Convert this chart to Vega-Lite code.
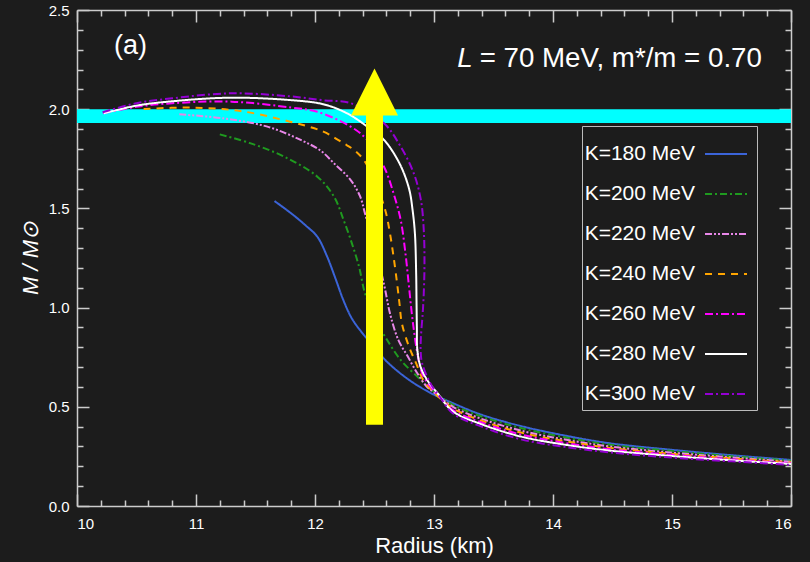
{
  "$schema": "https://vega.github.io/schema/vega-lite/v6.json",
  "width": 714,
  "height": 496,
  "autosize": {"type": "none"},
  "padding": {"left": 77, "top": 10, "right": 19, "bottom": 56},
  "background": "#1c1c1c",
  "view": {"stroke": null},
  "config": {
    "font": "Liberation Sans",
    "axis": {
      "domainColor": "#cccccc", "tickColor": "#cccccc", "labelColor": "#ffffff", "titleColor": "#ffffff",
      "grid": false, "labelFont": "Liberation Sans", "labelFontSize": 15, "domainWidth": 1.5, "tickWidth": 1.5,
      "titleFont": "Liberation Sans", "titleFontWeight": "normal", "zindex": 1
    }
  },
  "datasets": {
    "band": [{"x0": 10, "x1": 16, "y0": 1.93, "y1": 2.0}],
    "arrow": [{"R": 12.5, "M0": 0.41, "M1": 2.0, "Mh": 2.087}],
    "curves": [
      {"K": "K=180 MeV", "i": 1, "R": 11.66, "M": 1.537},
      {"K": "K=180 MeV", "i": 2, "R": 11.80, "M": 1.475},
      {"K": "K=180 MeV", "i": 3, "R": 11.92, "M": 1.415},
      {"K": "K=180 MeV", "i": 4, "R": 12.02, "M": 1.357},
      {"K": "K=180 MeV", "i": 5, "R": 12.10, "M": 1.26},
      {"K": "K=180 MeV", "i": 6, "R": 12.17, "M": 1.15},
      {"K": "K=180 MeV", "i": 7, "R": 12.24, "M": 1.035},
      {"K": "K=180 MeV", "i": 8, "R": 12.31, "M": 0.945},
      {"K": "K=180 MeV", "i": 9, "R": 12.40, "M": 0.87},
      {"K": "K=180 MeV", "i": 10, "R": 12.50, "M": 0.80},
      {"K": "K=180 MeV", "i": 11, "R": 12.60, "M": 0.73},
      {"K": "K=180 MeV", "i": 12, "R": 12.78, "M": 0.64},
      {"K": "K=180 MeV", "i": 13, "R": 12.97, "M": 0.570},
      {"K": "K=180 MeV", "i": 14, "R": 13.16, "M": 0.518},
      {"K": "K=180 MeV", "i": 15, "R": 13.40, "M": 0.46},
      {"K": "K=180 MeV", "i": 16, "R": 13.73, "M": 0.403},
      {"K": "K=180 MeV", "i": 17, "R": 14.10, "M": 0.355},
      {"K": "K=180 MeV", "i": 18, "R": 14.48, "M": 0.316},
      {"K": "K=180 MeV", "i": 19, "R": 15.00, "M": 0.283},
      {"K": "K=180 MeV", "i": 20, "R": 15.50, "M": 0.256},
      {"K": "K=180 MeV", "i": 21, "R": 16.00, "M": 0.232},

      {"K": "K=200 MeV", "i": 1, "R": 11.20, "M": 1.873},
      {"K": "K=200 MeV", "i": 2, "R": 11.46, "M": 1.828},
      {"K": "K=200 MeV", "i": 3, "R": 11.74, "M": 1.761},
      {"K": "K=200 MeV", "i": 4, "R": 12.02, "M": 1.66},
      {"K": "K=200 MeV", "i": 5, "R": 12.16, "M": 1.559},
      {"K": "K=200 MeV", "i": 6, "R": 12.24, "M": 1.442},
      {"K": "K=200 MeV", "i": 7, "R": 12.31, "M": 1.324},
      {"K": "K=200 MeV", "i": 8, "R": 12.37, "M": 1.206},
      {"K": "K=200 MeV", "i": 9, "R": 12.42, "M": 1.072},
      {"K": "K=200 MeV", "i": 10, "R": 12.50, "M": 0.95},
      {"K": "K=200 MeV", "i": 11, "R": 12.59, "M": 0.853},
      {"K": "K=200 MeV", "i": 12, "R": 12.72, "M": 0.736},
      {"K": "K=200 MeV", "i": 13, "R": 12.86, "M": 0.652},
      {"K": "K=200 MeV", "i": 14, "R": 12.94, "M": 0.605},
      {"K": "K=200 MeV", "i": 15, "R": 13.00, "M": 0.575},
      {"K": "K=200 MeV", "i": 16, "R": 13.16, "M": 0.51},
      {"K": "K=200 MeV", "i": 17, "R": 13.40, "M": 0.451},
      {"K": "K=200 MeV", "i": 18, "R": 13.73, "M": 0.393},
      {"K": "K=200 MeV", "i": 19, "R": 14.10, "M": 0.346},
      {"K": "K=200 MeV", "i": 20, "R": 14.48, "M": 0.309},
      {"K": "K=200 MeV", "i": 21, "R": 15.00, "M": 0.277},
      {"K": "K=200 MeV", "i": 22, "R": 15.50, "M": 0.251},
      {"K": "K=200 MeV", "i": 23, "R": 16.00, "M": 0.228},

      {"K": "K=220 MeV", "i": 1, "R": 10.86, "M": 1.974},
      {"K": "K=220 MeV", "i": 2, "R": 11.23, "M": 1.954},
      {"K": "K=220 MeV", "i": 3, "R": 11.60, "M": 1.912},
      {"K": "K=220 MeV", "i": 4, "R": 11.88, "M": 1.845},
      {"K": "K=220 MeV", "i": 5, "R": 12.05, "M": 1.79},
      {"K": "K=220 MeV", "i": 6, "R": 12.16, "M": 1.727},
      {"K": "K=220 MeV", "i": 7, "R": 12.30, "M": 1.643},
      {"K": "K=220 MeV", "i": 8, "R": 12.38, "M": 1.559},
      {"K": "K=220 MeV", "i": 9, "R": 12.42, "M": 1.475},
      {"K": "K=220 MeV", "i": 10, "R": 12.47, "M": 1.37},
      {"K": "K=220 MeV", "i": 11, "R": 12.52, "M": 1.26},
      {"K": "K=220 MeV", "i": 12, "R": 12.56, "M": 1.17},
      {"K": "K=220 MeV", "i": 13, "R": 12.59, "M": 1.089},
      {"K": "K=220 MeV", "i": 14, "R": 12.63, "M": 0.971},
      {"K": "K=220 MeV", "i": 15, "R": 12.70, "M": 0.837},
      {"K": "K=220 MeV", "i": 16, "R": 12.78, "M": 0.753},
      {"K": "K=220 MeV", "i": 17, "R": 12.86, "M": 0.669},
      {"K": "K=220 MeV", "i": 18, "R": 12.94, "M": 0.601},
      {"K": "K=220 MeV", "i": 19, "R": 13.00, "M": 0.572},
      {"K": "K=220 MeV", "i": 20, "R": 13.16, "M": 0.500},
      {"K": "K=220 MeV", "i": 21, "R": 13.40, "M": 0.439},
      {"K": "K=220 MeV", "i": 22, "R": 13.73, "M": 0.38},
      {"K": "K=220 MeV", "i": 23, "R": 14.10, "M": 0.335},
      {"K": "K=220 MeV", "i": 24, "R": 14.48, "M": 0.30},
      {"K": "K=220 MeV", "i": 25, "R": 15.00, "M": 0.269},
      {"K": "K=220 MeV", "i": 26, "R": 15.50, "M": 0.245},
      {"K": "K=220 MeV", "i": 27, "R": 16.00, "M": 0.223},

      {"K": "K=240 MeV", "i": 1, "R": 10.56, "M": 2.001},
      {"K": "K=240 MeV", "i": 2, "R": 10.95, "M": 2.008},
      {"K": "K=240 MeV", "i": 3, "R": 11.37, "M": 1.991},
      {"K": "K=240 MeV", "i": 4, "R": 11.79, "M": 1.937},
      {"K": "K=240 MeV", "i": 5, "R": 12.07, "M": 1.887},
      {"K": "K=240 MeV", "i": 6, "R": 12.24, "M": 1.828},
      {"K": "K=240 MeV", "i": 7, "R": 12.33, "M": 1.794},
      {"K": "K=240 MeV", "i": 8, "R": 12.41, "M": 1.744},
      {"K": "K=240 MeV", "i": 9, "R": 12.50, "M": 1.64},
      {"K": "K=240 MeV", "i": 10, "R": 12.59, "M": 1.492},
      {"K": "K=240 MeV", "i": 11, "R": 12.63, "M": 1.374},
      {"K": "K=240 MeV", "i": 12, "R": 12.66, "M": 1.257},
      {"K": "K=240 MeV", "i": 13, "R": 12.69, "M": 1.122},
      {"K": "K=240 MeV", "i": 14, "R": 12.71, "M": 1.02},
      {"K": "K=240 MeV", "i": 15, "R": 12.73, "M": 0.921},
      {"K": "K=240 MeV", "i": 16, "R": 12.79, "M": 0.803},
      {"K": "K=240 MeV", "i": 17, "R": 12.85, "M": 0.719},
      {"K": "K=240 MeV", "i": 18, "R": 12.91, "M": 0.635},
      {"K": "K=240 MeV", "i": 19, "R": 12.99, "M": 0.578},
      {"K": "K=240 MeV", "i": 20, "R": 13.16, "M": 0.492},
      {"K": "K=240 MeV", "i": 21, "R": 13.40, "M": 0.43},
      {"K": "K=240 MeV", "i": 22, "R": 13.73, "M": 0.37},
      {"K": "K=240 MeV", "i": 23, "R": 14.10, "M": 0.327},
      {"K": "K=240 MeV", "i": 24, "R": 14.48, "M": 0.293},
      {"K": "K=240 MeV", "i": 25, "R": 15.00, "M": 0.263},
      {"K": "K=240 MeV", "i": 26, "R": 15.50, "M": 0.24},
      {"K": "K=240 MeV", "i": 27, "R": 16.00, "M": 0.22},

      {"K": "K=260 MeV", "i": 1, "R": 10.22, "M": 1.98},
      {"K": "K=260 MeV", "i": 2, "R": 10.50, "M": 2.012},
      {"K": "K=260 MeV", "i": 3, "R": 10.80, "M": 2.03},
      {"K": "K=260 MeV", "i": 4, "R": 11.30, "M": 2.038},
      {"K": "K=260 MeV", "i": 5, "R": 11.80, "M": 2.008},
      {"K": "K=260 MeV", "i": 6, "R": 12.02, "M": 1.987},
      {"K": "K=260 MeV", "i": 7, "R": 12.30, "M": 1.912},
      {"K": "K=260 MeV", "i": 8, "R": 12.44, "M": 1.845},
      {"K": "K=260 MeV", "i": 9, "R": 12.58, "M": 1.71},
      {"K": "K=260 MeV", "i": 10, "R": 12.66, "M": 1.576},
      {"K": "K=260 MeV", "i": 11, "R": 12.72, "M": 1.442},
      {"K": "K=260 MeV", "i": 12, "R": 12.76, "M": 1.274},
      {"K": "K=260 MeV", "i": 13, "R": 12.79, "M": 1.105},
      {"K": "K=260 MeV", "i": 14, "R": 12.82, "M": 0.937},
      {"K": "K=260 MeV", "i": 15, "R": 12.86, "M": 0.77},
      {"K": "K=260 MeV", "i": 16, "R": 12.90, "M": 0.669},
      {"K": "K=260 MeV", "i": 17, "R": 12.97, "M": 0.601},
      {"K": "K=260 MeV", "i": 18, "R": 13.05, "M": 0.55},
      {"K": "K=260 MeV", "i": 19, "R": 13.16, "M": 0.484},
      {"K": "K=260 MeV", "i": 20, "R": 13.40, "M": 0.421},
      {"K": "K=260 MeV", "i": 21, "R": 13.73, "M": 0.36},
      {"K": "K=260 MeV", "i": 22, "R": 14.10, "M": 0.318},
      {"K": "K=260 MeV", "i": 23, "R": 14.48, "M": 0.286},
      {"K": "K=260 MeV", "i": 24, "R": 15.00, "M": 0.258},
      {"K": "K=260 MeV", "i": 25, "R": 15.50, "M": 0.235},
      {"K": "K=260 MeV", "i": 26, "R": 16.00, "M": 0.216},

      {"K": "K=280 MeV", "i": 1, "R": 10.225, "M": 1.979},
      {"K": "K=280 MeV", "i": 2, "R": 10.50, "M": 2.018},
      {"K": "K=280 MeV", "i": 3, "R": 10.80, "M": 2.04},
      {"K": "K=280 MeV", "i": 4, "R": 11.29, "M": 2.058},
      {"K": "K=280 MeV", "i": 5, "R": 11.79, "M": 2.046},
      {"K": "K=280 MeV", "i": 6, "R": 12.07, "M": 2.025},
      {"K": "K=280 MeV", "i": 7, "R": 12.27, "M": 1.979},
      {"K": "K=280 MeV", "i": 8, "R": 12.44, "M": 1.912},
      {"K": "K=280 MeV", "i": 9, "R": 12.58, "M": 1.845},
      {"K": "K=280 MeV", "i": 10, "R": 12.71, "M": 1.727},
      {"K": "K=280 MeV", "i": 11, "R": 12.79, "M": 1.60},
      {"K": "K=280 MeV", "i": 12, "R": 12.82, "M": 1.492},
      {"K": "K=280 MeV", "i": 13, "R": 12.84, "M": 1.37},
      {"K": "K=280 MeV", "i": 14, "R": 12.85, "M": 1.173},
      {"K": "K=280 MeV", "i": 15, "R": 12.853, "M": 1.038},
      {"K": "K=280 MeV", "i": 16, "R": 12.856, "M": 0.90},
      {"K": "K=280 MeV", "i": 17, "R": 12.86, "M": 0.786},
      {"K": "K=280 MeV", "i": 18, "R": 12.887, "M": 0.702},
      {"K": "K=280 MeV", "i": 19, "R": 12.943, "M": 0.635},
      {"K": "K=280 MeV", "i": 20, "R": 13.03, "M": 0.568},
      {"K": "K=280 MeV", "i": 21, "R": 13.16, "M": 0.476},
      {"K": "K=280 MeV", "i": 22, "R": 13.40, "M": 0.412},
      {"K": "K=280 MeV", "i": 23, "R": 13.73, "M": 0.35},
      {"K": "K=280 MeV", "i": 24, "R": 14.10, "M": 0.309},
      {"K": "K=280 MeV", "i": 25, "R": 14.48, "M": 0.279},
      {"K": "K=280 MeV", "i": 26, "R": 15.00, "M": 0.252},
      {"K": "K=280 MeV", "i": 27, "R": 15.50, "M": 0.23},
      {"K": "K=280 MeV", "i": 28, "R": 16.00, "M": 0.212},

      {"K": "K=300 MeV", "i": 1, "R": 10.215, "M": 1.985},
      {"K": "K=300 MeV", "i": 2, "R": 10.50, "M": 2.03},
      {"K": "K=300 MeV", "i": 3, "R": 10.80, "M": 2.055},
      {"K": "K=300 MeV", "i": 4, "R": 11.29, "M": 2.08},
      {"K": "K=300 MeV", "i": 5, "R": 11.79, "M": 2.065},
      {"K": "K=300 MeV", "i": 6, "R": 12.07, "M": 2.045},
      {"K": "K=300 MeV", "i": 7, "R": 12.30, "M": 2.03},
      {"K": "K=300 MeV", "i": 8, "R": 12.58, "M": 1.929},
      {"K": "K=300 MeV", "i": 9, "R": 12.72, "M": 1.811},
      {"K": "K=300 MeV", "i": 10, "R": 12.83, "M": 1.677},
      {"K": "K=300 MeV", "i": 11, "R": 12.89, "M": 1.542},
      {"K": "K=300 MeV", "i": 12, "R": 12.914, "M": 1.391},
      {"K": "K=300 MeV", "i": 13, "R": 12.92, "M": 1.223},
      {"K": "K=300 MeV", "i": 14, "R": 12.914, "M": 1.072},
      {"K": "K=300 MeV", "i": 15, "R": 12.905, "M": 0.971},
      {"K": "K=300 MeV", "i": 16, "R": 12.89, "M": 0.85},
      {"K": "K=300 MeV", "i": 17, "R": 12.888, "M": 0.78},
      {"K": "K=300 MeV", "i": 18, "R": 12.90, "M": 0.719},
      {"K": "K=300 MeV", "i": 19, "R": 12.97, "M": 0.618},
      {"K": "K=300 MeV", "i": 20, "R": 13.05, "M": 0.55},
      {"K": "K=300 MeV", "i": 21, "R": 13.16, "M": 0.466},
      {"K": "K=300 MeV", "i": 22, "R": 13.40, "M": 0.40},
      {"K": "K=300 MeV", "i": 23, "R": 13.73, "M": 0.336},
      {"K": "K=300 MeV", "i": 24, "R": 14.10, "M": 0.298},
      {"K": "K=300 MeV", "i": 25, "R": 14.48, "M": 0.27},
      {"K": "K=300 MeV", "i": 26, "R": 15.00, "M": 0.244},
      {"K": "K=300 MeV", "i": 27, "R": 15.50, "M": 0.225},
      {"K": "K=300 MeV", "i": 28, "R": 16.00, "M": 0.207}
    ]
  },
  "layer": [
    {
      "data": {"name": "band"},
      "mark": {"type": "rect", "color": "#00ffff"},
      "encoding": {
        "x": {"field": "x0", "type": "quantitative",
          "scale": {"domain": [10, 16], "nice": false, "zero": false},
          "axis": {"orient": "bottom", "values": [10, 11, 12, 13, 14, 15, 16], "format": "d", "ticks": false, "labelPadding": 10,
            "title": "Radius (km)", "titleFontSize": 22, "titlePadding": 4, "domain": true}},
        "x2": {"field": "x1"},
        "y": {"field": "y0", "type": "quantitative",
          "scale": {"domain": [0, 2.5], "nice": false, "zero": false},
          "axis": {"orient": "left", "values": [0, 0.5, 1, 1.5, 2, 2.5], "format": ".1f", "ticks": false, "labelPadding": 8,
            "title": "M / M⊙", "titleFontSize": 22, "titleFontStyle": "italic", "titlePadding": 6, "domain": true}},
        "y2": {"field": "y1"}
      }
    },
    {
      "data": {"name": "curves"},
      "mark": {"type": "line", "strokeWidth": 2, "clip": true, "interpolate": "catmull-rom"},
      "encoding": {
        "x": {"field": "R", "type": "quantitative",
          "scale": {"domain": [10, 16], "nice": false, "zero": false},
          "axis": {"orient": "bottom", "values": [10, 11, 12, 13, 14, 15, 16], "offset": -12, "tickSize": 12, "labels": false, "domain": false, "title": null}},
        "y": {"field": "M", "type": "quantitative",
          "scale": {"domain": [0, 2.5], "nice": false, "zero": false},
          "axis": {"orient": "left", "values": [0, 0.5, 1, 1.5, 2, 2.5], "offset": -12, "tickSize": 12, "labels": false, "domain": false, "title": null}},
        "color": {"field": "K", "type": "nominal",
          "scale": {"domain": ["K=180 MeV", "K=200 MeV", "K=220 MeV", "K=240 MeV", "K=260 MeV", "K=280 MeV", "K=300 MeV"],
            "range": ["#3b64d8", "#1f9a1f", "#e887e8", "#ffa500", "#ff00ff", "#ffffff", "#9400d3"]},
          "legend": {"title": null, "orient": "none", "legendX": 505, "legendY": 116, "direction": "vertical",
            "symbolType": "stroke", "symbolSize": 1764, "symbolStrokeWidth": 2, "symbolOffset": 116,
            "labelFont": "Liberation Sans", "labelFontSize": 21, "labelColor": "#ffffff", "labelAlign": "right", "labelOffset": -53, "labelLimit": 400,
            "rowPadding": 8, "padding": 6, "strokeColor": "#bbbbbb", "fillColor": "#1c1c1c"}},
        "strokeDash": {"field": "K", "type": "nominal",
          "scale": {"domain": ["K=180 MeV", "K=200 MeV", "K=220 MeV", "K=240 MeV", "K=260 MeV", "K=280 MeV", "K=300 MeV"],
            "range": [[1, 0], [7, 3, 2, 3], [7, 2, 2, 2, 2, 2], [7, 6], [8, 3, 2, 3], [1, 0], [8, 3, 2, 3]]},
          "legend": {"title": null, "orient": "none", "legendX": 505, "legendY": 116, "direction": "vertical",
            "symbolType": "stroke", "symbolSize": 1764, "symbolStrokeWidth": 2, "symbolOffset": 116,
            "labelFont": "Liberation Sans", "labelFontSize": 21, "labelColor": "#ffffff", "labelAlign": "right", "labelOffset": -53, "labelLimit": 400,
            "rowPadding": 8, "padding": 6, "strokeColor": "#bbbbbb", "fillColor": "#1c1c1c"}},
        "order": {"field": "i", "type": "quantitative"}
      }
    },
    {
      "data": {"name": "arrow"},
      "mark": {"type": "rule", "color": "#ffff00", "strokeWidth": 17, "strokeCap": "butt"},
      "encoding": {
        "x": {"field": "R", "type": "quantitative",
          "scale": {"domain": [10, 16], "nice": false, "zero": false},
          "axis": {"orient": "bottom", "values": [10.2, 10.4, 10.6, 10.8, 11.2, 11.4, 11.6, 11.8, 12.2, 12.4, 12.6, 12.8, 13.2, 13.4, 13.6, 13.8, 14.2, 14.4, 14.6, 14.8, 15.2, 15.4, 15.6, 15.8],
            "offset": -6, "tickSize": 6, "labels": false, "domain": false, "title": null}},
        "y": {"field": "M0", "type": "quantitative",
          "scale": {"domain": [0, 2.5], "nice": false, "zero": false},
          "axis": {"orient": "left", "values": [0.1, 0.2, 0.3, 0.4, 0.6, 0.7, 0.8, 0.9, 1.1, 1.2, 1.3, 1.4, 1.6, 1.7, 1.8, 1.9, 2.1, 2.2, 2.3, 2.4],
            "offset": -6, "tickSize": 6, "labels": false, "domain": false, "title": null}},
        "y2": {"field": "M1"}
      }
    },
    {
      "data": {"name": "arrow"},
      "mark": {"type": "point", "filled": true, "shape": "M-1,1L0,-1L1,1Z", "size": 2209, "color": "#ffff00", "opacity": 1, "strokeWidth": 0},
      "encoding": {
        "x": {"field": "R", "type": "quantitative",
          "scale": {"domain": [10, 16], "nice": false, "zero": false},
          "axis": {"orient": "top", "values": [10, 16], "ticks": false, "labels": false, "domain": true, "title": null}},
        "y": {"field": "Mh", "type": "quantitative",
          "scale": {"domain": [0, 2.5], "nice": false, "zero": false},
          "axis": {"orient": "right", "values": [0, 2.5], "ticks": false, "labels": false, "domain": true, "title": null}}
      }
    },
    {
      "data": {"values": [{}]},
      "mark": {"type": "text", "text": "(a)", "font": "Liberation Sans", "fontSize": 27, "color": "#ffffff", "align": "center", "baseline": "middle"},
      "encoding": {
        "x": {"datum": 10.45, "type": "quantitative",
          "axis": {"orient": "top", "values": [10, 11, 12, 13, 14, 15, 16], "offset": -12, "tickSize": 12, "labels": false, "domain": false, "title": null}},
        "y": {"datum": 2.32, "type": "quantitative",
          "axis": {"orient": "right", "values": [0, 0.5, 1, 1.5, 2, 2.5], "offset": -12, "tickSize": 12, "labels": false, "domain": false, "title": null}}
      }
    },
    {
      "data": {"values": [{}]},
      "mark": {"type": "text", "text": "L", "font": "Liberation Sans", "fontSize": 27.7, "fontStyle": "italic", "color": "#ffffff", "align": "left", "baseline": "middle"},
      "encoding": {
        "x": {"datum": 13.195, "type": "quantitative",
          "axis": {"orient": "top", "values": [10.2, 10.4, 10.6, 10.8, 11.2, 11.4, 11.6, 11.8, 12.2, 12.4, 12.6, 12.8, 13.2, 13.4, 13.6, 13.8, 14.2, 14.4, 14.6, 14.8, 15.2, 15.4, 15.6, 15.8],
            "offset": -6, "tickSize": 6, "labels": false, "domain": false, "title": null}},
        "y": {"datum": 2.254, "type": "quantitative",
          "axis": {"orient": "right", "values": [0.1, 0.2, 0.3, 0.4, 0.6, 0.7, 0.8, 0.9, 1.1, 1.2, 1.3, 1.4, 1.6, 1.7, 1.8, 1.9, 2.1, 2.2, 2.3, 2.4],
            "offset": -6, "tickSize": 6, "labels": false, "domain": false, "title": null}}
      }
    },
    {
      "data": {"values": [{}]},
      "mark": {"type": "text", "text": "= 70 MeV, m*/m = 0.70", "font": "Liberation Sans", "fontSize": 27.7, "color": "#ffffff", "align": "left", "baseline": "middle", "dx": 22.5},
      "encoding": {
        "x": {"datum": 13.195, "type": "quantitative", "axis": null},
        "y": {"datum": 2.254, "type": "quantitative", "axis": null}
      }
    }
  ],
  "resolve": {"axis": {"x": "independent", "y": "independent"}}
}
